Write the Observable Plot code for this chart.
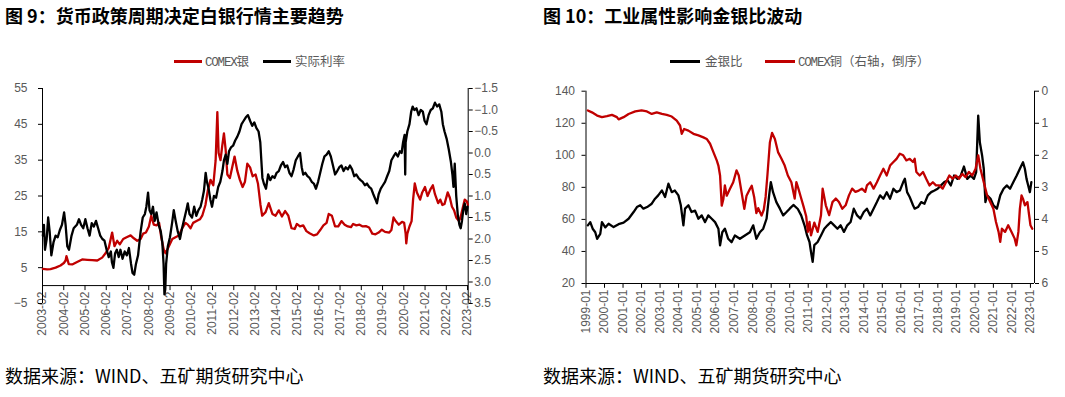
<!DOCTYPE html>
<html><head><meta charset="utf-8">
<script src="https://cdn.jsdelivr.net/npm/d3@7"></script>
<script src="https://cdn.jsdelivr.net/npm/@observablehq/plot@0.6"></script>
<style>
body{margin:0;width:1065px;height:397px;background:#fff;position:relative;overflow:hidden;font-family:"Noto Sans CJK SC",sans-serif;}
.title{position:absolute;top:6px;font-size:18px;line-height:18px;font-weight:bold;color:#000;white-space:nowrap;}
.lg{position:absolute;top:54px;font-size:12.5px;line-height:14px;color:#595959;white-space:nowrap;}
.lg .m{font-family:"Liberation Mono",monospace;letter-spacing:-1.2px;}
.sw{position:absolute;top:60px;height:3px;}
.src{position:absolute;top:366px;font-size:18px;line-height:18px;color:#000;white-space:nowrap;}
.chart{position:absolute;top:80px;}
</style></head>
<body>
<div class="title" style="left:5px">图 9：货币政策周期决定白银行情主要趋势</div>
<div class="title" style="left:543px">图 10：工业属性影响金银比波动</div>
<div class="sw" style="left:174px;width:28px;background:#c00000"></div>
<div class="lg" style="left:205px"><span class="m">COMEX</span>银</div>
<div class="sw" style="left:263px;width:28px;background:#000"></div>
<div class="lg" style="left:295px">实际利率</div>
<div class="sw" style="left:670px;width:30px;background:#000"></div>
<div class="lg" style="left:705px">金银比</div>
<div class="sw" style="left:765px;width:30px;background:#c00000"></div>
<div class="lg" style="left:798px"><span class="m">COMEX</span>铜（右轴，倒序）</div>
<div id="c1" class="chart" style="left:0px"></div>
<div id="c2" class="chart" style="left:535px"></div>
<div class="src" style="left:5px">数据来源：WIND、五矿期货研究中心</div>
<div class="src" style="left:543px">数据来源：WIND、五矿期货研究中心</div>
<script>
// ---------- Chart 1 data ----------
const xLabels1 = ["2003-02","2004-02","2005-02","2006-02","2007-02","2008-02","2009-02","2010-02","2011-02","2012-02","2013-02","2014-02","2015-02","2016-02","2017-02","2018-02","2019-02","2020-02","2021-02","2022-02","2023-02"];
const leftTicks1 = [-5,5,15,25,35,45,55];
const rightTicks1 = [-1.5,-1.0,-0.5,0.0,0.5,1.0,1.5,2.0,2.5,3.0,3.5];
// COMEX silver, USD/oz  [decimal year, value]
const silver = [[2003.10,4.65],[2003.30,4.5],[2003.46,4.6],[2003.70,5.0],[2003.93,5.6],[2004.09,6.3],[2004.17,7.0],[2004.21,8.2],[2004.32,6.0],[2004.48,5.9],[2004.71,6.6],[2004.95,7.3],[2005.19,7.2],[2005.42,7.1],[2005.66,7.0],[2005.89,7.8],[2006.05,9.0],[2006.20,10.5],[2006.32,13.8],[2006.36,14.8],[2006.47,11.0],[2006.60,12.5],[2006.72,11.5],[2006.88,13.0],[2007.04,13.5],[2007.23,14.0],[2007.38,13.2],[2007.54,12.5],[2007.70,13.0],[2007.82,14.5],[2007.95,14.8],[2008.09,16.5],[2008.20,19.5],[2008.32,17.0],[2008.45,16.8],[2008.57,17.5],[2008.67,13.5],[2008.79,10.0],[2008.87,9.0],[2009.03,11.0],[2009.19,13.0],[2009.34,13.5],[2009.50,14.0],[2009.66,16.0],[2009.81,17.5],[2009.92,17.0],[2010.05,16.0],[2010.17,17.5],[2010.33,18.0],[2010.49,18.5],[2010.60,19.5],[2010.75,22.5],[2010.86,26.5],[2010.99,29.5],[2011.12,28.0],[2011.23,35.0],[2011.31,48.4],[2011.37,37.0],[2011.46,35.0],[2011.54,39.0],[2011.62,42.5],[2011.70,38.0],[2011.78,31.0],[2011.90,30.0],[2012.01,33.0],[2012.12,36.0],[2012.25,32.0],[2012.37,29.5],[2012.50,27.5],[2012.61,29.0],[2012.72,34.0],[2012.85,33.0],[2012.97,30.5],[2013.11,31.0],[2013.22,28.5],[2013.34,22.5],[2013.42,19.5],[2013.58,20.5],[2013.73,23.0],[2013.90,20.0],[2014.05,19.5],[2014.20,21.0],[2014.35,19.3],[2014.50,20.8],[2014.65,19.5],[2014.80,16.0],[2014.95,15.8],[2015.05,17.2],[2015.20,16.5],[2015.35,16.8],[2015.50,15.2],[2015.65,14.6],[2015.85,14.0],[2016.00,14.3],[2016.15,15.5],[2016.30,16.8],[2016.45,17.5],[2016.55,20.0],[2016.70,19.5],[2016.85,16.5],[2017.00,16.5],[2017.15,18.0],[2017.30,17.0],[2017.45,16.5],[2017.60,16.3],[2017.70,17.2],[2017.85,16.8],[2018.00,17.0],[2018.15,16.5],[2018.30,16.6],[2018.45,16.2],[2018.60,14.5],[2018.75,14.3],[2018.90,14.8],[2019.05,15.6],[2019.20,15.0],[2019.40,14.8],[2019.50,15.5],[2019.60,19.0],[2019.70,18.0],[2019.85,17.0],[2020.00,17.8],[2020.10,17.5],[2020.17,14.5],[2020.20,11.8],[2020.25,14.5],[2020.35,16.5],[2020.45,18.0],[2020.52,24.0],[2020.60,28.5],[2020.70,26.0],[2020.85,24.0],[2020.95,26.0],[2021.08,27.5],[2021.20,25.0],[2021.35,27.0],[2021.45,28.0],[2021.55,25.5],[2021.70,23.0],[2021.80,24.0],[2021.90,22.5],[2022.00,22.8],[2022.15,26.0],[2022.25,24.5],[2022.35,22.0],[2022.45,21.0],[2022.55,19.0],[2022.68,18.0],[2022.75,19.0],[2022.85,21.5],[2022.95,24.0],[2023.05,23.5],[2023.10,22.5]];
// Real interest rate, % (right axis, reversed)
const realRate = [[2003.10,1.92],[2003.15,1.67],[2003.20,2.25],[2003.28,2.00],[2003.35,1.50],[2003.42,1.83],[2003.50,2.38],[2003.60,2.08],[2003.70,1.92],[2003.80,1.96],[2003.90,1.79],[2004.00,1.67],[2004.10,1.38],[2004.17,1.67],[2004.25,2.17],[2004.33,2.25],[2004.45,1.92],[2004.55,1.75],[2004.70,1.67],[2004.80,1.54],[2004.90,1.67],[2005.00,1.75],[2005.10,1.54],[2005.20,1.75],[2005.30,1.92],[2005.40,1.63],[2005.50,1.71],[2005.60,1.58],[2005.70,1.75],[2005.80,1.92],[2005.90,2.00],[2006.00,2.04],[2006.10,2.25],[2006.20,2.42],[2006.30,2.29],[2006.35,2.54],[2006.42,2.67],[2006.50,2.33],[2006.58,2.25],[2006.67,2.42],[2006.75,2.25],[2006.85,2.46],[2006.95,2.29],[2007.05,2.38],[2007.15,2.21],[2007.25,2.58],[2007.32,2.79],[2007.40,2.83],[2007.48,2.58],[2007.58,2.38],[2007.70,1.83],[2007.80,1.50],[2007.90,1.42],[2007.97,1.25],[2008.05,0.92],[2008.12,1.33],[2008.20,1.42],[2008.28,1.25],[2008.36,1.58],[2008.45,1.38],[2008.55,1.67],[2008.65,1.83],[2008.72,2.08],[2008.78,2.58],[2008.82,3.29],[2008.86,3.17],[2008.90,2.58],[2008.98,2.17],[2009.08,1.96],[2009.18,1.63],[2009.26,1.33],[2009.35,1.58],[2009.45,1.83],[2009.55,2.00],[2009.65,1.75],[2009.75,1.54],[2009.85,1.33],[2009.92,1.17],[2010.00,1.42],[2010.12,1.50],[2010.22,1.25],[2010.32,1.46],[2010.42,1.33],[2010.52,1.25],[2010.60,1.08],[2010.68,0.88],[2010.76,0.46],[2010.82,0.67],[2010.90,0.83],[2010.98,1.08],[2011.06,1.25],[2011.15,1.00],[2011.25,1.04],[2011.35,0.79],[2011.45,0.67],[2011.55,0.42],[2011.62,0.17],[2011.70,0.04],[2011.78,0.25],[2011.86,-0.04],[2011.95,-0.13],[2012.05,-0.17],[2012.15,-0.29],[2012.25,-0.38],[2012.35,-0.50],[2012.45,-0.67],[2012.55,-0.75],[2012.65,-0.83],[2012.75,-0.88],[2012.85,-0.75],[2012.95,-0.63],[2013.05,-0.71],[2013.15,-0.58],[2013.25,-0.50],[2013.33,-0.25],[2013.38,0.17],[2013.43,0.58],[2013.50,0.71],[2013.60,0.83],[2013.70,0.50],[2013.80,0.63],[2013.90,0.54],[2014.00,0.58],[2014.10,0.46],[2014.20,0.42],[2014.30,0.29],[2014.40,0.21],[2014.50,0.33],[2014.60,0.29],[2014.70,0.46],[2014.80,0.54],[2014.90,0.38],[2015.00,0.17],[2015.10,0.08],[2015.20,0.00],[2015.28,0.33],[2015.35,0.50],[2015.45,0.46],[2015.55,0.54],[2015.65,0.58],[2015.75,0.67],[2015.85,0.71],[2015.95,0.83],[2016.05,0.67],[2016.15,0.46],[2016.25,0.25],[2016.35,0.08],[2016.45,0.04],[2016.55,-0.04],[2016.65,0.08],[2016.75,0.29],[2016.85,0.50],[2016.95,0.42],[2017.05,0.33],[2017.15,0.29],[2017.25,0.42],[2017.35,0.33],[2017.45,0.38],[2017.55,0.29],[2017.65,0.38],[2017.75,0.54],[2017.85,0.50],[2017.95,0.58],[2018.05,0.63],[2018.15,0.67],[2018.25,0.75],[2018.35,0.71],[2018.45,0.79],[2018.55,0.83],[2018.65,0.96],[2018.75,1.08],[2018.82,1.17],[2018.90,0.96],[2019.00,0.83],[2019.10,0.75],[2019.20,0.67],[2019.30,0.54],[2019.40,0.42],[2019.50,0.17],[2019.60,0.08],[2019.70,0.00],[2019.80,0.08],[2019.90,-0.04],[2019.98,0.00],[2020.05,-0.25],[2020.12,-0.42],[2020.15,0.50],[2020.17,-0.25],[2020.25,-0.50],[2020.35,-0.67],[2020.43,-0.96],[2020.50,-1.08],[2020.58,-1.00],[2020.68,-1.04],[2020.78,-0.88],[2020.88,-1.00],[2020.98,-0.96],[2021.06,-0.75],[2021.15,-0.67],[2021.25,-0.88],[2021.35,-1.00],[2021.45,-1.04],[2021.55,-1.17],[2021.65,-1.08],[2021.75,-1.13],[2021.85,-0.96],[2021.92,-0.67],[2022.00,-0.50],[2022.10,-0.33],[2022.20,-0.08],[2022.30,0.21],[2022.37,0.50],[2022.42,0.79],[2022.48,0.25],[2022.55,1.00],[2022.62,1.42],[2022.70,1.67],[2022.76,1.75],[2022.82,1.58],[2022.88,1.33],[2022.95,1.17],[2023.02,1.42],[2023.08,1.25]];

// ---------- Chart 2 data ----------
const xLabels2 = ["1999-01","2000-01","2001-01","2002-01","2003-01","2004-01","2005-01","2006-01","2007-01","2008-01","2009-01","2010-01","2011-01","2012-01","2013-01","2014-01","2015-01","2016-01","2017-01","2018-01","2019-01","2020-01","2021-01","2022-01","2023-01"];
const leftTicks2 = [20,40,60,80,100,120,140];
const rightTicks2 = [0,1,2,3,4,5,6];
// Gold/silver ratio
const goldSilver = [[1999.10,56.3],[1999.23,58.3],[1999.36,54.2],[1999.50,52],[1999.60,47.9],[1999.77,51],[1999.86,58.3],[2000.04,55],[2000.22,57.3],[2000.49,55.2],[2000.76,57],[2001.03,58],[2001.30,60.4],[2001.57,64.6],[2001.75,67.7],[2001.93,68.8],[2002.10,66.7],[2002.30,67.7],[2002.55,69.8],[2002.73,72.9],[2002.90,75],[2003.10,78.1],[2003.27,74],[2003.45,82.3],[2003.63,77],[2003.80,78],[2003.99,75],[2004.12,68.8],[2004.26,56.3],[2004.35,66.7],[2004.53,68.8],[2004.70,64.6],[2004.89,65.5],[2005.07,60.4],[2005.25,62.5],[2005.43,58.3],[2005.60,62.5],[2005.79,60.4],[2005.97,58.3],[2006.15,54.2],[2006.24,43.8],[2006.36,52],[2006.50,54.2],[2006.68,47.9],[2006.86,45.8],[2007.04,50],[2007.31,47.9],[2007.58,50],[2007.85,52],[2008.03,56.3],[2008.20,47.9],[2008.39,52],[2008.57,54.2],[2008.75,60.4],[2008.89,75],[2008.98,83.3],[2009.10,77],[2009.28,70.8],[2009.47,66.7],[2009.65,62.5],[2009.83,64.6],[2010.00,66.7],[2010.20,69],[2010.44,66.5],[2010.62,62.5],[2010.80,56.3],[2010.94,50],[2011.07,45.9],[2011.15,39.7],[2011.24,33.5],[2011.33,43.9],[2011.51,45.9],[2011.69,50],[2011.87,54.2],[2012.04,56.3],[2012.22,58.4],[2012.40,56.3],[2012.58,54.2],[2012.75,56.3],[2012.93,52.2],[2013.11,56.3],[2013.29,58.4],[2013.46,66.7],[2013.64,62.5],[2013.82,60.5],[2014.00,64.6],[2014.17,66.7],[2014.35,62.5],[2014.53,66.7],[2014.71,70.8],[2014.88,75],[2015.06,72.9],[2015.24,77],[2015.42,72.9],[2015.60,79.1],[2015.77,77],[2015.95,78],[2016.13,83.3],[2016.22,85.4],[2016.34,77],[2016.48,74],[2016.66,68.8],[2016.75,66.7],[2016.93,67.7],[2017.10,70.8],[2017.28,69.8],[2017.46,75],[2017.64,77],[2017.82,78],[2017.99,79.1],[2018.17,81.2],[2018.35,83.3],[2018.53,84.3],[2018.70,81.2],[2018.88,87.4],[2019.06,85.3],[2019.24,87.4],[2019.41,93],[2019.59,85.3],[2019.77,87.4],[2019.95,85.3],[2020.07,89.5],[2020.18,124.8],[2020.27,108],[2020.39,99.9],[2020.48,91.6],[2020.57,70.8],[2020.66,75],[2020.84,73],[2021.00,68.8],[2021.19,66.7],[2021.37,75],[2021.55,79.1],[2021.72,81.2],[2021.90,79.1],[2022.08,83.3],[2022.26,87.4],[2022.43,91.6],[2022.60,95.7],[2022.70,91.6],[2022.79,85.3],[2022.88,81.2],[2022.97,77],[2023.05,83.3]];
// COMEX copper, USD/lb (right axis, reversed)
const copper = [[1999.10,0.60],[1999.32,0.66],[1999.60,0.76],[1999.86,0.81],[2000.13,0.78],[2000.40,0.74],[2000.67,0.81],[2000.76,0.88],[2001.03,0.81],[2001.30,0.71],[2001.66,0.63],[2002.00,0.60],[2002.29,0.63],[2002.55,0.71],[2002.82,0.66],[2003.10,0.71],[2003.36,0.74],[2003.63,0.79],[2003.90,0.92],[2004.08,1.07],[2004.17,1.33],[2004.30,1.18],[2004.53,1.23],[2004.80,1.33],[2005.07,1.38],[2005.34,1.44],[2005.52,1.49],[2005.70,1.64],[2005.88,1.90],[2006.06,2.16],[2006.15,2.32],[2006.24,2.63],[2006.33,3.57],[2006.42,3.36],[2006.50,2.94],[2006.60,3.26],[2006.77,3.05],[2006.95,2.84],[2007.13,2.47],[2007.25,2.63],[2007.40,3.15],[2007.55,3.67],[2007.67,3.26],[2007.85,3.05],[2007.95,2.95],[2008.08,3.30],[2008.20,3.80],[2008.30,3.65],[2008.48,3.88],[2008.60,3.70],[2008.70,3.30],[2008.80,2.60],[2008.93,1.60],[2009.05,1.30],[2009.20,1.49],[2009.37,1.90],[2009.55,2.10],[2009.73,2.32],[2009.90,2.63],[2010.09,2.84],[2010.27,3.35],[2010.36,2.84],[2010.45,3.00],[2010.60,3.30],[2010.75,3.60],[2010.89,3.90],[2010.98,4.39],[2011.07,4.08],[2011.15,4.50],[2011.33,4.10],[2011.51,4.39],[2011.69,3.87],[2011.78,3.04],[2011.95,3.56],[2012.13,3.87],[2012.31,3.46],[2012.49,3.35],[2012.66,3.46],[2012.84,3.67],[2013.02,3.56],[2013.20,3.25],[2013.37,3.04],[2013.55,3.14],[2013.73,3.10],[2013.90,3.04],[2014.08,3.14],[2014.17,2.94],[2014.35,2.84],[2014.53,3.04],[2014.71,2.84],[2014.88,2.63],[2015.06,2.42],[2015.24,2.63],[2015.42,2.32],[2015.60,2.21],[2015.77,2.11],[2015.95,1.95],[2016.13,2.00],[2016.30,2.16],[2016.48,2.11],[2016.66,2.21],[2016.75,2.11],[2016.84,2.52],[2017.02,2.63],[2017.20,2.52],[2017.37,2.73],[2017.55,2.94],[2017.73,2.84],[2017.90,2.94],[2018.08,2.94],[2018.26,3.04],[2018.44,2.84],[2018.62,2.63],[2018.80,2.73],[2018.97,2.63],[2019.15,2.73],[2019.32,2.58],[2019.50,2.68],[2019.68,2.52],[2019.86,2.63],[2020.04,2.42],[2020.18,2.00],[2020.30,2.42],[2020.48,2.84],[2020.66,3.25],[2020.83,3.46],[2021.00,3.67],[2021.14,4.08],[2021.28,4.39],[2021.37,4.70],[2021.46,4.29],[2021.63,4.39],[2021.80,4.18],[2021.98,4.39],[2022.15,4.60],[2022.24,4.81],[2022.35,4.39],[2022.43,3.67],[2022.52,3.25],[2022.60,3.36],[2022.70,3.56],[2022.84,3.46],[2022.93,3.87],[2023.00,4.18],[2023.10,4.29]];

// ---------- helpers ----------
const labelToYear = s => +s.slice(0,4) + (+s.slice(5,7) - 1) / 12;
const minus = s => s.replace("-", "\u2212");
const RED = "#c00000", GREY = "#595959";
const style = {fontFamily: "'Liberation Sans', Arial, sans-serif", fontSize: "12px", color: GREY, overflow: "visible", background: "transparent"};

function xAxisMarks(ticks, labels, y0, tickLen) {
  return [
    Plot.ruleY([y0], {stroke: "#000", strokeWidth: 1}),
    Plot.ruleX(ticks, {x: d => d, y1: y0, y2: y0 - tickLen, stroke: "#000"}),
    Plot.text(ticks, {x: d => d, y: y0, text: (d, i) => labels[i], rotate: -90, textAnchor: "end", dy: 6, fill: GREY, fontSize: 12})
  ];
}

// ---------- Chart 1 ----------
{
  const L = [-5, 55], R = [3.5, -1.5];
  const toL = r => L[0] + (r - R[0]) / (R[1] - R[0]) * (L[1] - L[0]);
  const toR = v => R[0] + (v - L[0]) / (L[1] - L[0]) * (R[1] - R[0]);
  const xt = xLabels1.map(labelToYear);
  const xd = [xt[0], xt[xt.length - 1] + 0.03];
  const chart = Plot.plot({
    width: 530, height: 260,
    marginLeft: 42, marginRight: 62.3, marginTop: 8, marginBottom: 37,
    x: {domain: xd, axis: null},
    y: {domain: L},
    style,
    marks: [
      ...xAxisMarks(xt, xLabels1, 0, 1.4),
      Plot.ruleX([xd[0]], {y1: L[0], y2: L[1], stroke: "#000"}),
      Plot.ruleX([xd[1]], {y1: L[0], y2: L[1], stroke: "#000"}),
      Plot.axisY(leftTicks1, {anchor: "left", tickSize: 4, tickPadding: 11, stroke: "#000", fill: GREY, label: null, tickFormat: d => minus(String(d))}),
      Plot.axisY(rightTicks1.map(toL), {anchor: "right", tickSize: 4, tickPadding: 2, stroke: "#000", fill: GREY, label: null, tickFormat: d => minus(toR(d).toFixed(1))}),
      Plot.line(silver, {x: d => d[0], y: d => d[1], stroke: RED, strokeWidth: 2.3}),
      Plot.line(realRate, {x: d => d[0], y: d => toL(d[1]), stroke: "#000", strokeWidth: 2.3})
    ]
  });
  document.getElementById("c1").append(chart);
}

// ---------- Chart 2 ----------
{
  const L = [20, 140], R = [6, 0];
  const toL = r => L[0] + (r - R[0]) / (R[1] - R[0]) * (L[1] - L[0]);
  const toR = v => R[0] + (v - L[0]) / (L[1] - L[0]) * (R[1] - R[0]);
  const xt = xLabels2.map(labelToYear);
  const xd = [xt[0], xt[xt.length - 1] + 0.22];
  const chart = Plot.plot({
    width: 530, height: 260,
    marginLeft: 50.5, marginRight: 31, marginTop: 10.7, marginBottom: 57,
    x: {domain: xd, axis: null},
    y: {domain: L},
    style,
    marks: [
      ...xAxisMarks(xt, xLabels2, L[0], 3),
      Plot.ruleX([xd[0]], {y1: L[0], y2: L[1], stroke: "#000"}),
      Plot.ruleX([xd[1]], {y1: L[0], y2: L[1], stroke: "#000"}),
      Plot.axisY(leftTicks2, {anchor: "left", tickSize: 4, tickPadding: 7, stroke: "#000", fill: GREY, label: null}),
      Plot.axisY(rightTicks2.map(toL), {anchor: "right", tickSize: 4, tickPadding: 3, stroke: "#000", fill: GREY, label: null, tickFormat: d => String(Math.round(toR(d)))}),
      Plot.line(goldSilver, {x: d => d[0], y: d => d[1], stroke: "#000", strokeWidth: 2.3}),
      Plot.line(copper, {x: d => d[0], y: d => toL(d[1]), stroke: RED, strokeWidth: 2.3})
    ]
  });
  document.getElementById("c2").append(chart);
}
</script>
</body></html>
